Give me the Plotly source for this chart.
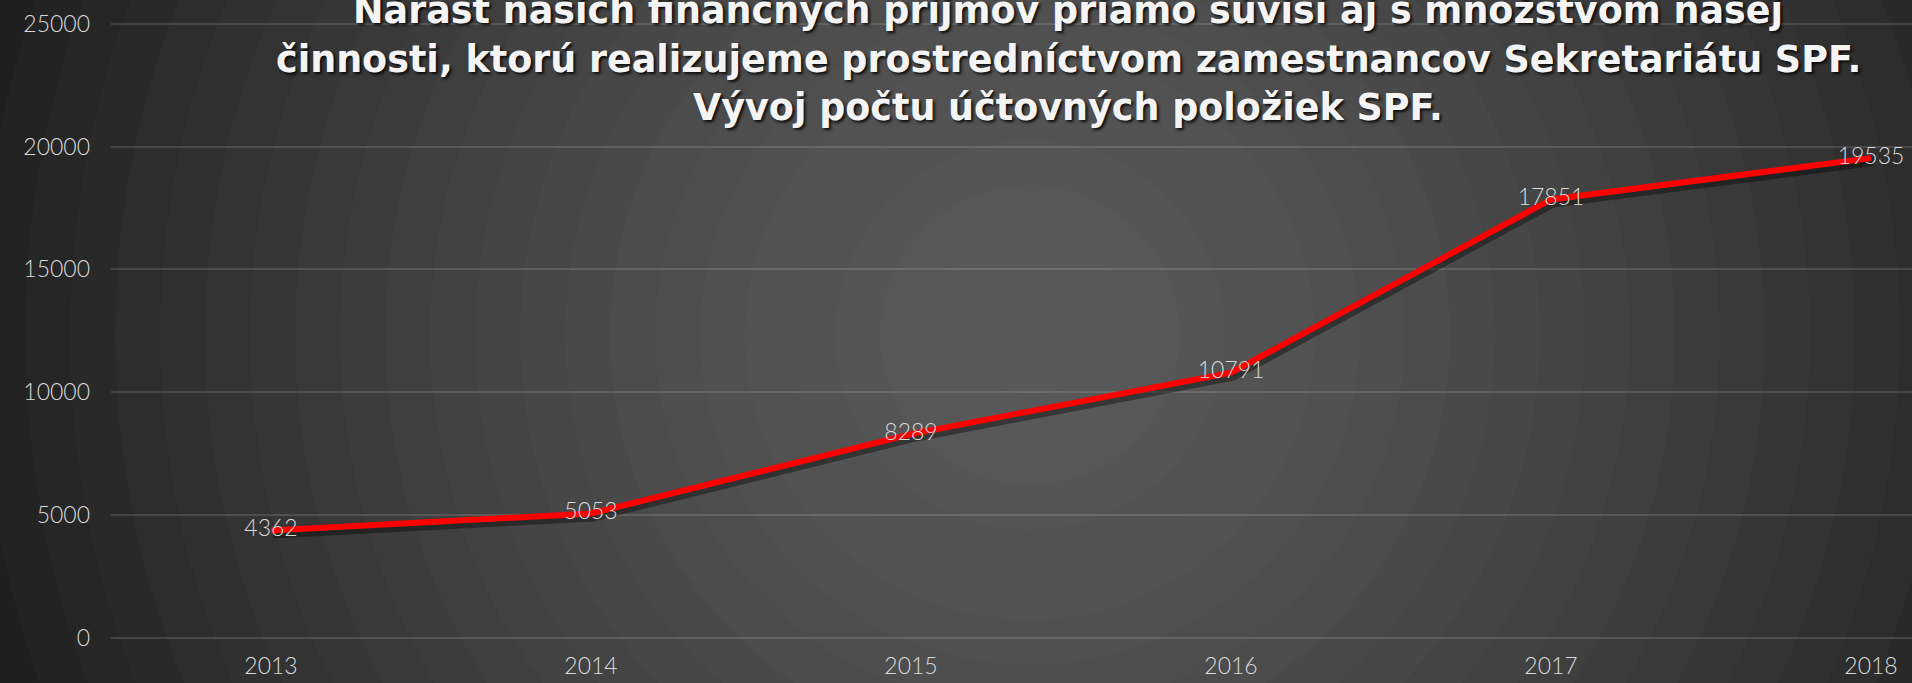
import plotly.graph_objects as go

# ---- data -------------------------------------------------------------
years = ["2013", "2014", "2015", "2016", "2017", "2018"]
items = [4362, 5053, 8289, 10791, 17851, 19535]
y_ticks = [0, 5000, 10000, 15000, 20000, 25000]
title_lines = [
    "Nárast našich finančných príjmov priamo súvisí aj s množstvom našej",
    "činnosti, ktorú realizujeme prostredníctvom zamestnancov Sekretariátu SPF.",
    "Vývoj počtu účtovných položiek SPF.",
]

# ---- page geometry (pixels) --------------------------------------------
W, H = 1912, 683
M_L, M_R, M_T, M_B = 111, 0, 14, 33
PW, PH = W - M_L - M_R, H - M_T - M_B


def px_to_paper_x(px):
    return (px - M_L) / PW


def px_to_paper_y(py):
    return (H - M_B - py) / PH


px_per_unit = (637.5 - 24) / 25000
y_bottom = -(H - M_B - 637.5) / px_per_unit
y_top = 25000 + (24 - M_T) / px_per_unit
x_right = -0.5 + PW / 320

# drop-shadow offset for the line (pixels right / down)
SH_DX, SH_DY = 2, 4
dx_units = SH_DX / 320
dy_units = SH_DY / px_per_unit

label_font = dict(family="Lato", size=23, color="#d9d9d9", weight=300)

fig = go.Figure()

# invisible carrier on the primary axes (keeps grid and tick labels alive)
fig.add_trace(go.Scatter(
    x=years, y=items, mode="lines",
    line=dict(color="rgba(0,0,0,0)", width=0), hoverinfo="skip",
))

# soft shadow beneath the series line
fig.add_trace(go.Scatter(
    x=years, y=items, xaxis="x2", yaxis="y2",
    mode="lines", line=dict(color="rgba(0,0,0,0.38)", width=8),
    hoverinfo="skip",
))

# the series line with its value labels
fig.add_trace(go.Scatter(
    x=years, y=items, xaxis="x3", yaxis="y3",
    mode="lines+text",
    line=dict(color="#ff0000", width=6),
    text=[str(v) for v in items],
    textposition="middle center",
    textfont=label_font,
    cliponaxis=False,
    hoverinfo="x+y",
))

# ---- radial background (concentric bands) ------------------------------
shapes = []
cx, cy = 1030, 335
r = 1500
while r > 20:
    g = 90 - 55 * (r / 1050) ** 1.5
    g = int(max(30, min(90, g)))
    col = f"rgb({g},{g},{g})"
    shapes.append(dict(
        type="circle", xref="paper", yref="paper", layer="below",
        x0=px_to_paper_x(cx - r), x1=px_to_paper_x(cx + r),
        y0=px_to_paper_y(cy + r), y1=px_to_paper_y(cy - r),
        fillcolor=col, line=dict(width=0),
    ))
    r -= 45

# ---- title lines ------------------------------------------------------
annotations = []
for line, py in zip(title_lines, [10, 60, 107]):
    annotations.append(dict(
        text=f"<b>{line}</b>", xref="paper", yref="paper",
        x=px_to_paper_x(1068), y=px_to_paper_y(py),
        xanchor="center", yanchor="middle", showarrow=False,
        font=dict(family="DejaVu Sans", size=36.5, color="#f4f4f4",
                  shadow="2px 2px 3px rgba(0,0,0,0.85)"),
    ))

hidden_axis = dict(showgrid=False, zeroline=False, showline=False,
                   showticklabels=False, ticks="", fixedrange=True)

fig.update_layout(
    width=W, height=H,
    margin=dict(l=M_L, r=M_R, t=M_T, b=M_B),
    paper_bgcolor="#202020",
    plot_bgcolor="rgba(0,0,0,0)",
    showlegend=False,
    shapes=shapes,
    annotations=annotations,
    xaxis=dict(
        type="category", categoryarray=years, range=[-0.5, x_right],
        showgrid=False, zeroline=False, showline=False, ticks="",
        tickfont=label_font, fixedrange=True,
    ),
    yaxis=dict(
        range=[y_bottom, y_top], tickvals=y_ticks,
        ticktext=[str(v) for v in y_ticks],
        showgrid=True, gridcolor="rgba(255,255,255,0.13)", gridwidth=1.5,
        zeroline=False, showline=False, ticks="",
        ticklabelstandoff=20, tickfont=label_font, fixedrange=True,
    ),
    xaxis2=dict(type="category", categoryarray=years, overlaying="x",
                range=[-0.5 - dx_units, x_right - dx_units], **hidden_axis),
    yaxis2=dict(overlaying="y",
                range=[y_bottom + dy_units, y_top + dy_units], **hidden_axis),
    xaxis3=dict(type="category", categoryarray=years, overlaying="x",
                range=[-0.5, x_right], **hidden_axis),
    yaxis3=dict(overlaying="y", range=[y_bottom, y_top], **hidden_axis),
)

fig.write_html("out.html", config={"displayModeBar": False})
